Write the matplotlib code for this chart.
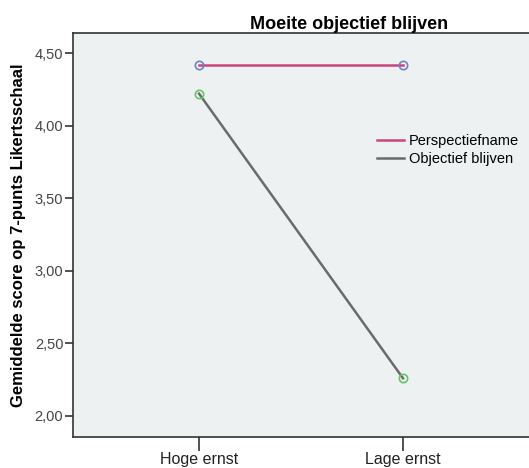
import matplotlib
matplotlib.use('Agg')
import matplotlib.pyplot as plt
from matplotlib.ticker import FixedLocator, FuncFormatter

plt.rcParams['font.family'] = ['Liberation Sans', 'DejaVu Sans']

# data
categories = ['Hoge ernst', 'Lage ernst']
perspectiefname = [4.42, 4.42]
objectief_blijven = [4.22, 2.26]
series_names = ['Perspectiefname', 'Objectief blijven']
yticks = [2.0, 2.5, 3.0, 3.5, 4.0, 4.5]

W, H = 529, 468
fig = plt.figure(figsize=(W / 100, H / 100), dpi=100)
ax = fig.add_axes([73 / W, 1 - 437 / H, (W - 73) / W, (437 - 33) / H])
ax.set_facecolor('#eef1f2')

x = list(range(len(categories)))
ax.plot(x, perspectiefname, color='#c8467c', lw=1.8, label=series_names[0], zorder=2)
ax.plot(x, objectief_blijven, color='#6b6b6b', lw=1.8, label=series_names[1], zorder=2)
ax.plot(x, perspectiefname, 'o', ms=6, mfc='none', mec='#7080c8', mew=1.2, zorder=3)
ax.plot(x, objectief_blijven, 'o', ms=6, mfc='none', mec='#66c466', mew=1.2, zorder=3)

ax.set_xlim(-0.618, 1.618)
ax.set_ylim(1.855, 4.638)
ax.set_xticks(x)
ax.set_xticklabels(categories, fontsize=11.5)
ax.yaxis.set_major_locator(FixedLocator(yticks))
ax.yaxis.set_major_formatter(FuncFormatter(lambda v, p: f'{v:.2f}'.replace('.', ',')))
ax.tick_params(axis='y', length=6, width=1.2, color='#333333', labelsize=10.5, labelcolor='#444444', pad=1)
ax.tick_params(axis='x', length=10, width=1.2, color='#333333', labelcolor='#222222', pad=0.5)

for s in ['left', 'top', 'bottom']:
    ax.spines[s].set_color('#333333')
    ax.spines[s].set_linewidth(1.2)
ax.spines['right'].set_visible(False)

ax.set_ylabel('Gemiddelde score op 7-punts Likertsschaal', fontsize=12, fontweight='bold', labelpad=6)
ax.set_title('Moeite objectief blijven', fontsize=13, fontweight='bold', x=(349 - 73) / (W - 73), pad=2)

leg = ax.legend(loc='upper left', bbox_to_anchor=((377 - 73) / (W - 73), 1 - (134 - 33) / (437 - 33)),
                frameon=False, fontsize=10.5, handlelength=1.85, handletextpad=0.35, labelspacing=0.28,
                borderaxespad=0, borderpad=0)

fig.savefig('out.png', dpi=100)
